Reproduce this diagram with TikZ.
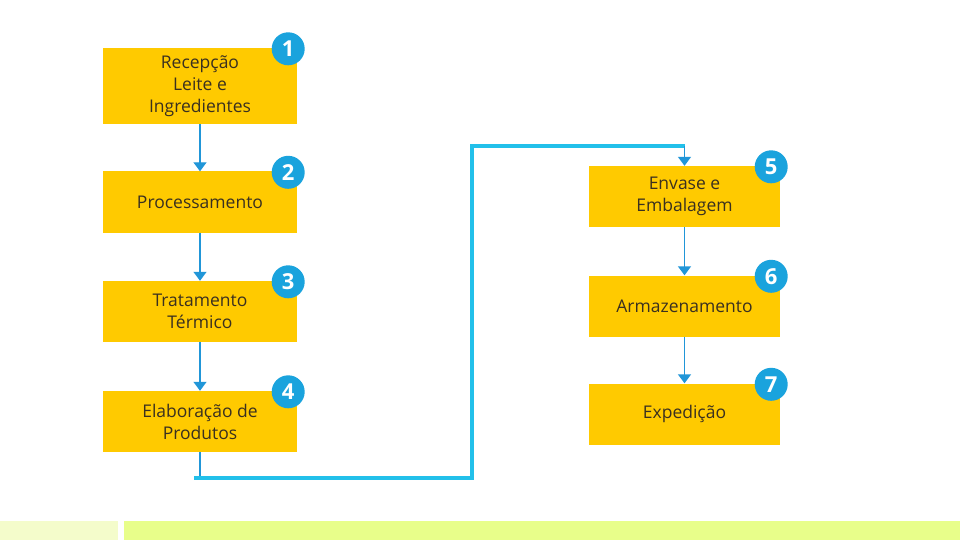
\documentclass[tikz,border=0pt]{standalone}
\usepackage{fontspec}
\setmainfont{Open Sans}
\usetikzlibrary{arrows.meta}
\definecolor{boxy}{HTML}{FFCA00}
\definecolor{badge}{HTML}{1AA3DD}
\definecolor{arr}{HTML}{2196D8}
\definecolor{link}{HTML}{22C0EA}
\definecolor{txt}{HTML}{3A3020}
\definecolor{barL}{HTML}{F4FCCB}
\definecolor{barR}{HTML}{E8FE8A}
\begin{document}
\begin{tikzpicture}[x=1pt,y=-1pt,
  stepbox/.style={fill=boxy,minimum width=194pt,minimum height=61pt,inner sep=0pt,
    align=center,font=\fontsize{17.5}{22}\selectfont,text=txt},
  badgec/.style={circle,fill=badge,minimum size=33pt,inner sep=0pt,text=white,
    font=\fontsize{22}{22}\selectfont\bfseries},
  flow/.style={arr,line width=1.4pt,-{Triangle[length=9pt,width=13pt]}}]
\useasboundingbox (0,0) rectangle (960,540);
\fill[white] (0,0) rectangle (960,540);
\fill[barL] (0,521) rectangle (118,540);
\fill[barR] (124,521) rectangle (960,540);

\node[stepbox,minimum height=76pt] (b1) at (200,86) {Recepção\\Leite e\\Ingredientes};
\node[stepbox] (b2) at (200,202) {Processamento};
\node[stepbox] (b3) at (200,311.5) {Tratamento\\Térmico};
\node[stepbox] (b4) at (200,421.5) {Elaboração de\\Produtos};
\node[stepbox,minimum width=191pt] (b5) at (684.5,196.5) {Envase e\\Embalagem};
\node[stepbox,minimum width=191pt] (b6) at (684.5,306) {Armazenamento};
\node[stepbox,minimum width=191pt] (b7) at (684.5,414) {Expedição};

\foreach \b/\n in {b1/1,b2/2,b3/3,b4/4,b5/5,b6/6,b7/7}
  \node[badgec] (c\n) at ([xshift=-9pt,yshift=-1pt]\b.north east) {\n};

\draw[flow] (b1) -- (b2);
\draw[flow] (b2) -- (b3);
\draw[flow] (b3) -- (b4);
\draw[flow] (b5) -- (b6);
\draw[flow] (b6) -- (b7);

\coordinate (p1) at (200,478);
\coordinate (p0) at (194,478);
\coordinate (p2) at (472,478);
\coordinate (p3) at (472,146);
\coordinate (p4) at (684.5,146);
\draw[arr,line width=1.4pt] (b4.south) -- (p1);
\draw[link,line width=3.5pt] (p0) -- (p2) -- (p3) -- (p4);
\draw[flow] (p4) -- (b5.north);
\end{tikzpicture}
\end{document}
